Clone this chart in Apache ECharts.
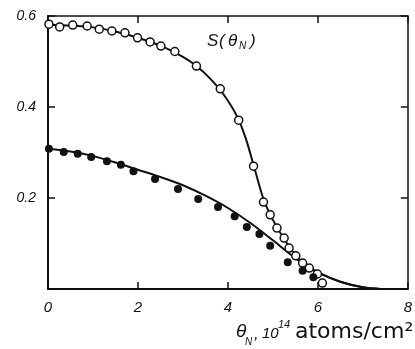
<!DOCTYPE html>
<html>
<head>
<meta charset="utf-8">
<script src="https://cdn.jsdelivr.net/npm/echarts@6/dist/echarts.min.js"></script>
<style>html,body{margin:0;padding:0;background:#fff}#c{width:415px;height:349px}</style>
</head>
<body>
<div id="c"></div>
<script>
// Open circles (data points)
var openX = [0.02, 0.26, 0.55, 0.87, 1.14, 1.42, 1.71, 1.99, 2.27, 2.51, 2.82, 3.30, 3.83, 4.24, 4.57, 4.79, 4.94, 5.09, 5.25, 5.36, 5.51, 5.66, 5.81, 5.99, 6.10];
var openY = [0.582, 0.576, 0.580, 0.578, 0.571, 0.567, 0.563, 0.552, 0.543, 0.534, 0.522, 0.490, 0.440, 0.371, 0.270, 0.191, 0.163, 0.134, 0.112, 0.090, 0.073, 0.057, 0.046, 0.033, 0.013];
// Filled circles (data points)
var fillX = [0.02, 0.35, 0.66, 0.96, 1.31, 1.62, 1.90, 2.38, 2.89, 3.34, 3.78, 4.15, 4.42, 4.70, 4.94, 5.33, 5.66, 5.90];
var fillY = [0.308, 0.301, 0.297, 0.290, 0.281, 0.273, 0.259, 0.242, 0.220, 0.198, 0.180, 0.160, 0.136, 0.121, 0.095, 0.059, 0.040, 0.026];
// Fitted curve through open circles S(theta_N)
var openCurveX = [0, 0.5, 1, 1.5, 2, 2.5, 3, 3.3, 3.6, 3.9, 4.2, 4.4, 4.6, 4.8, 5.0, 5.25, 5.5, 5.75, 6.0, 6.5, 7.0, 7.4];
var openCurveY = [0.581, 0.579, 0.575, 0.566, 0.552, 0.535, 0.510, 0.490, 0.463, 0.428, 0.380, 0.330, 0.262, 0.195, 0.152, 0.110, 0.075, 0.050, 0.036, 0.016, 0.004, 0.0];
// Fitted curve through filled circles
var fillCurveX = [0, 0.5, 1, 1.5, 2, 2.5, 3, 3.5, 4, 4.5, 5, 5.5, 6, 6.5, 7, 7.4];
var fillCurveY = [0.308, 0.302, 0.292, 0.278, 0.262, 0.246, 0.228, 0.205, 0.178, 0.145, 0.107, 0.068, 0.037, 0.016, 0.004, 0.0];
// Tick labels
var xTicks = ['0', '2', '4', '6', '8'];
var yTicks = ['', '0.2', '0.4', '0.6'];

function pairs(xs, ys) { return xs.map(function (x, i) { return [x, ys[i]]; }); }

var FONT = 'Liberation Sans';
var chart = echarts.init(document.getElementById('c'), null, { renderer: 'canvas' });
function axisLine(w) { return { show: true, onZero: false, lineStyle: { color: '#111', width: w } }; }
var tick = { show: true, inside: true, length: 7, lineStyle: { color: '#111', width: 1.5 } };
function txt(s, left, top, size, italic, family) {
  return { type: 'text', left: left, top: top,
    style: { text: s, fontSize: size, fontStyle: italic ? 'italic' : 'normal',
      fontFamily: family || FONT, fill: '#111' } };
}
chart.setOption({
  animation: false,
  backgroundColor: '#fff',
  grid: { left: 48, right: 2, top: 16, bottom: 60 },
  xAxis: [
    { type: 'value', position: 'bottom', min: 0, max: 8, interval: 2,
      splitLine: { show: false }, axisLine: axisLine(2), axisTick: tick,
      axisLabel: { margin: 11, fontFamily: FONT, fontStyle: 'italic', fontSize: 15, color: '#111',
        formatter: function (v) { return xTicks[Math.round(v / 2)]; } } },
    { type: 'value', position: 'top', min: 0, max: 8, interval: 2,
      splitLine: { show: false }, axisLine: axisLine(1.5), axisTick: tick,
      axisLabel: { show: false } }
  ],
  yAxis: [
    { type: 'value', position: 'left', min: 0, max: 0.6, interval: 0.2,
      splitLine: { show: false }, axisLine: axisLine(2), axisTick: tick,
      axisLabel: { margin: 12, fontFamily: FONT, fontStyle: 'italic', fontSize: 14, color: '#111',
        formatter: function (v) { return yTicks[Math.round(v / 0.2)]; } } },
    { type: 'value', position: 'right', min: 0, max: 0.6, interval: 0.2,
      splitLine: { show: false }, axisLine: axisLine(1.5), axisTick: tick,
      axisLabel: { show: false } }
  ],
  series: [
    { type: 'line', data: pairs(openCurveX, openCurveY), smooth: 0.3, showSymbol: false,
      lineStyle: { color: '#111', width: 2 }, z: 2 },
    { type: 'line', data: pairs(fillCurveX, fillCurveY), smooth: 0.3, showSymbol: false,
      lineStyle: { color: '#111', width: 2 }, z: 2 },
    { type: 'scatter', data: pairs(openX, openY), symbol: 'circle', symbolSize: 8,
      itemStyle: { color: '#fff', borderColor: '#111', borderWidth: 1.5, opacity: 1 }, z: 3 },
    { type: 'scatter', data: pairs(fillX, fillY), symbol: 'circle', symbolSize: 8,
      itemStyle: { color: '#111', opacity: 1 }, z: 3 }
  ],
  graphic: [
    txt('S', 207, 33, 17, true),
    txt('(', 219, 33, 17, true),
    txt('θ', 228, 33, 17, true),
    txt('N', 239, 41, 10, true),
    txt(')', 250, 33, 17, true),

    txt('θ', 236, 322, 19, true),
    txt('N', 245, 337, 10, true),
    txt(',', 254, 326, 17, true),
    txt('10', 262, 326, 15, true),
    txt('14', 278, 319, 11, true),
    txt('atoms/cm²', 295, 321, 22, false, 'DejaVu Sans')
  ]
});
</script>
</body>
</html>
